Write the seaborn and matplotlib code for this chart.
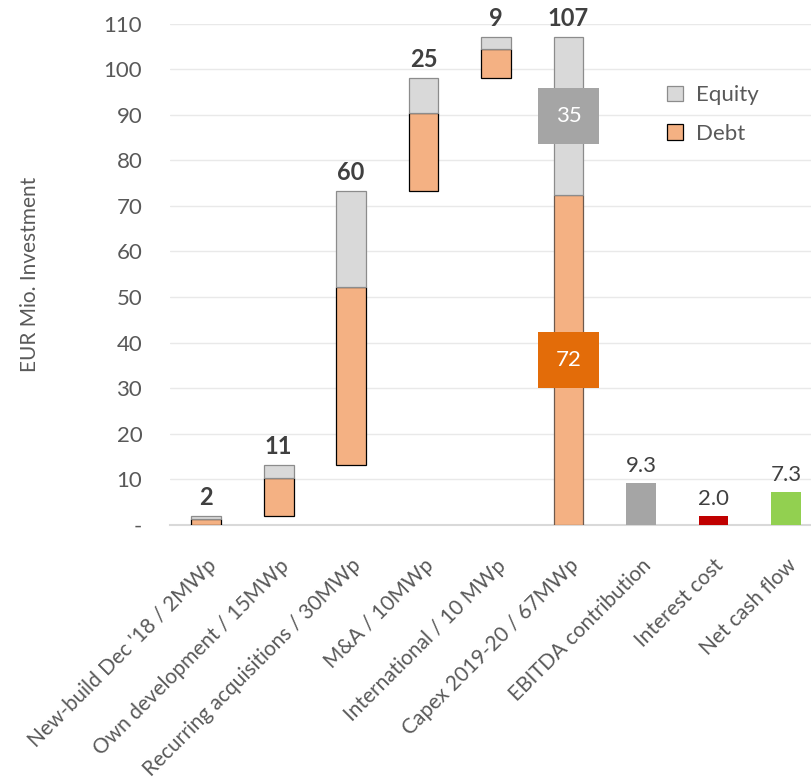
import matplotlib
matplotlib.use("Agg")
import matplotlib.pyplot as plt
from matplotlib.patches import Patch
from matplotlib.ticker import FixedLocator, FuncFormatter
import numpy as np
import pandas as pd
import seaborn as sns

# Investment programme (EUR Mio.), split into debt and equity financing
projects = ["New-build Dec '18 / 2MWp", "Own development / 15MWp",
            "Recurring acquisitions / 30MWp", "M&A / 10MWp",
            "International / 10 MWp"]
debt = [1.4, 8.4, 39.1, 17.2, 6.3]
equity = [0.6, 2.7, 21.0, 7.7, 2.7]

total_label = "Capex 2019-20 / 67MWp"

# Cash flow items shown next to the capex bar
cash_items = ["EBITDA contribution", "Interest cost", "Net cash flow"]
cash_values = [9.3, 2.0, 7.3]
cash_colors = ["#A5A5A5", "#C00000", "#92D050"]

categories = projects + [total_label] + cash_items

DEBT_COLOR = "#F4B183"
EQUITY_COLOR = "#D9D9D9"
TEXT = "#595959"
LABEL_TEXT = "#404040"

sns.set_theme(style="white")
plt.rcParams["font.family"] = ["Lato", "DejaVu Sans"]

fig = plt.figure(figsize=(8.12, 7.81), dpi=100)
ax = fig.add_axes([0.2094, 0.3278, 0.803, 0.6421])

width = 0.41
x_proj = np.arange(len(projects))
x_total = len(projects)

# Waterfall: every project starts where the previous one ended
project_totals = np.array(debt) + np.array(equity)
bases = np.concatenate([[0.0], np.cumsum(project_totals)[:-1]])

ax.bar(x_proj, debt, width=width, bottom=bases, color=DEBT_COLOR,
       edgecolor="#000000", linewidth=0.9, zorder=3)
ax.bar(x_proj, equity, width=width, bottom=bases + np.array(debt),
       color=EQUITY_COLOR, edgecolor="#8C8C8C", linewidth=0.9, zorder=3)

debt_sum = float(np.sum(debt))
equity_sum = float(np.sum(equity))
ax.bar([x_total], [debt_sum], width=width, color=DEBT_COLOR,
       edgecolor="#6E5A4E", linewidth=0.9, zorder=3)
ax.bar([x_total], [equity_sum], width=width, bottom=[debt_sum],
       color=EQUITY_COLOR, edgecolor="#8C8C8C", linewidth=0.9, zorder=3)

# Cash flow bars on the same categorical positions
cash_df = pd.DataFrame({"pos": np.arange(len(cash_items)) + x_total + 1,
                        "item": cash_items, "value": cash_values})
for (_, row), col in zip(cash_df.iterrows(), cash_colors):
    ax.bar([row["pos"]], [row["value"]], width=width, color=col,
           linewidth=0, zorder=3)
sns.despine(ax=ax, left=True, top=True, right=True)

# Bold totals on top of the investment bars
for xi, b, t in zip(x_proj, bases, project_totals):
    ax.annotate(f"{t:.0f}", (xi, b + t), xytext=(0, 5), textcoords="offset points",
                ha="center", va="bottom", fontsize=17, fontweight="bold",
                color=LABEL_TEXT, zorder=5)
ax.annotate(f"{debt_sum + equity_sum:.0f}", (x_total, debt_sum + equity_sum),
            xytext=(0, 5), textcoords="offset points", ha="center", va="bottom",
            fontsize=17, fontweight="bold", color=LABEL_TEXT, zorder=5)

# Boxed split of the total capex
ax.text(x_total, debt_sum + equity_sum / 2, f"{equity_sum:.0f}", ha="center",
        va="center", fontsize=16, color="white", zorder=6,
        bbox=dict(boxstyle="square,pad=0.8", facecolor="#A5A5A5", edgecolor="none"))
ax.text(x_total, debt_sum / 2, f"{debt_sum:.0f}", ha="center",
        va="center", fontsize=16, color="white", zorder=6,
        bbox=dict(boxstyle="square,pad=0.8", facecolor="#E36C09", edgecolor="none"))

# Plain value labels for the cash flow bars
for pos, v in zip(cash_df["pos"], cash_values):
    ax.annotate(f"{v:.1f}", (pos, v), xytext=(0, 5), textcoords="offset points",
                ha="center", va="bottom", fontsize=16, color=LABEL_TEXT, zorder=5)

# Axes styling
ax.set_xlim(-0.5, len(categories) - 0.5)
ax.set_ylim(0, 110)
ax.yaxis.set_major_locator(FixedLocator(np.arange(0, 111, 10)))
ax.yaxis.set_major_formatter(FuncFormatter(lambda v, p: "-" if v == 0 else f"{v:.0f}"))
ax.grid(axis="y", color="#E9E9E9", linewidth=1.0, zorder=0)
ax.set_axisbelow(True)
ax.tick_params(axis="y", length=0, pad=20, labelsize=16, labelcolor=TEXT)

ax.set_xticks(np.arange(len(categories)))
ax.set_xticklabels(categories, rotation=45, ha="right", rotation_mode="anchor",
                   fontsize=15, color=TEXT)
ax.tick_params(axis="x", which="major", length=0, pad=22)
ax.set_xticks(np.arange(len(categories) + 1) - 0.5, minor=True)
ax.tick_params(axis="x", which="minor", length=7, width=1.2, color="#D9D9D9")
ax.spines["bottom"].set_color("#D9D9D9")
ax.spines["bottom"].set_linewidth(1.5)

ax.set_ylabel("EUR Mio. Investment", fontsize=15, color=TEXT)
ax.yaxis.set_label_coords(-0.2, 0.5)

handles = [Patch(facecolor=EQUITY_COLOR, edgecolor="#8C8C8C", linewidth=0.9, label="Equity"),
           Patch(facecolor=DEBT_COLOR, edgecolor="#000000", linewidth=0.9, label="Debt")]
leg = ax.legend(handles=handles, loc="upper left", bbox_to_anchor=(0.822, 0.891),
                bbox_transform=fig.transFigure, frameon=False, fontsize=16,
                handlelength=0.7, handleheight=0.7, handletextpad=0.6,
                labelspacing=0.85, borderpad=0, borderaxespad=0)
for t in leg.get_texts():
    t.set_color(TEXT)

fig.savefig("out.png", dpi=100)
